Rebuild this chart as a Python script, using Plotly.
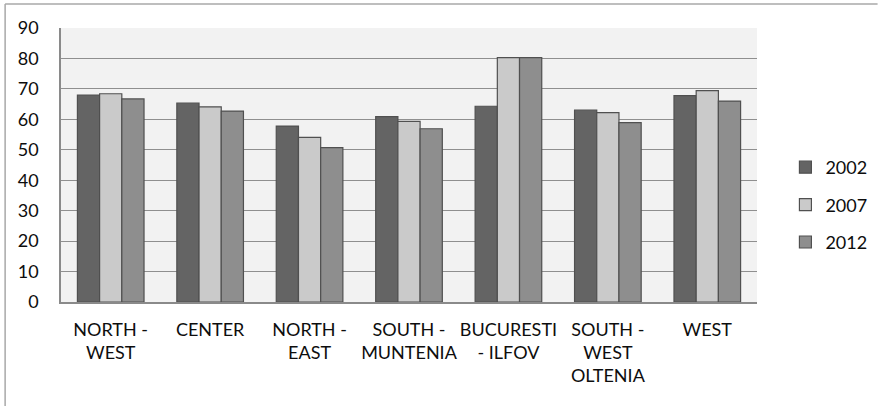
import plotly.graph_objects as go

# Regions (category tick labels, line-broken as displayed)
regions = [
    "NORTH -<br>WEST",
    "CENTER",
    "NORTH -<br>EAST",
    "SOUTH -<br>MUNTENIA",
    "BUCURESTI<br>- ILFOV",
    "SOUTH -<br>WEST<br>OLTENIA",
    "WEST",
]

years = ["2002", "2007", "2012"]

values_2002 = [68.0, 65.3, 57.8, 60.9, 64.3, 63.0, 67.8]
values_2007 = [68.4, 64.1, 54.1, 59.3, 80.3, 62.2, 69.4]
values_2012 = [66.7, 62.7, 50.7, 56.9, 80.3, 58.9, 66.0]

series = [values_2002, values_2007, values_2012]
colors = ["#646464", "#cacaca", "#8e8e8e"]

FONT = "Lato"
TEXT_COL = "#0d0d0d"

fig = go.Figure()
for i, (name, vals, col) in enumerate(zip(years, series, colors)):
    fig.add_trace(go.Bar(
        x=regions,
        y=vals,
        name=name,
        legendgroup=name,
        marker=dict(color=col, line=dict(color="#505050", width=1.2)),
    ))

W, H = 884, 406
ml, mr, mt, mb = 61, 113, 28, 104
pw, ph = W - ml - mr, H - mt - mb


def px_x(p):
    return (p - ml) / pw


def px_y(p):
    return (H - mb - p) / ph


fig.update_layout(
    width=W,
    height=H,
    margin=dict(l=ml, r=mr, t=mt, b=mb),
    paper_bgcolor="white",
    plot_bgcolor="#f2f2f2",
    barmode="group",
    bargap=0.33,
    bargroupgap=0,
    font=dict(family=FONT, size=18, color=TEXT_COL),
    legend=dict(
        x=px_x(800),
        y=px_y(205),
        xanchor="left",
        yanchor="middle",
        font=dict(family=FONT, size=18, color=TEXT_COL),
        tracegroupgap=11,
        bgcolor="rgba(0,0,0,0)",
        itemwidth=30,
    ),
    showlegend=True,
)

fig.update_yaxes(
    range=[0, 90],
    dtick=10,
    showgrid=True,
    gridcolor="#8f8f8f",
    gridwidth=1.2,
    showline=True,
    linecolor="#8a8a8a",
    linewidth=1.5,
    ticks="",
    ticklabelstandoff=17,
    zeroline=False,
    tickfont=dict(family=FONT, size=18, color=TEXT_COL),
)

fig.update_xaxes(
    showline=True,
    linecolor="#8a8a8a",
    linewidth=2,
    ticks="",
    tickangle=0,
    ticklabelstandoff=10,
    tickfont=dict(family=FONT, size=18, color=TEXT_COL),
)

# Outer chart frame (top and left edges)
frame_col = "#a8a8a8"
fig.add_shape(type="line", xref="paper", yref="paper",
              x0=px_x(4), x1=px_x(W + 10), y0=px_y(4), y1=px_y(4),
              line=dict(color=frame_col, width=1.5))
fig.add_shape(type="line", xref="paper", yref="paper",
              x0=px_x(4), x1=px_x(4), y0=px_y(4), y1=px_y(H + 10),
              line=dict(color=frame_col, width=1.5))

fig.write_html("out.html")
